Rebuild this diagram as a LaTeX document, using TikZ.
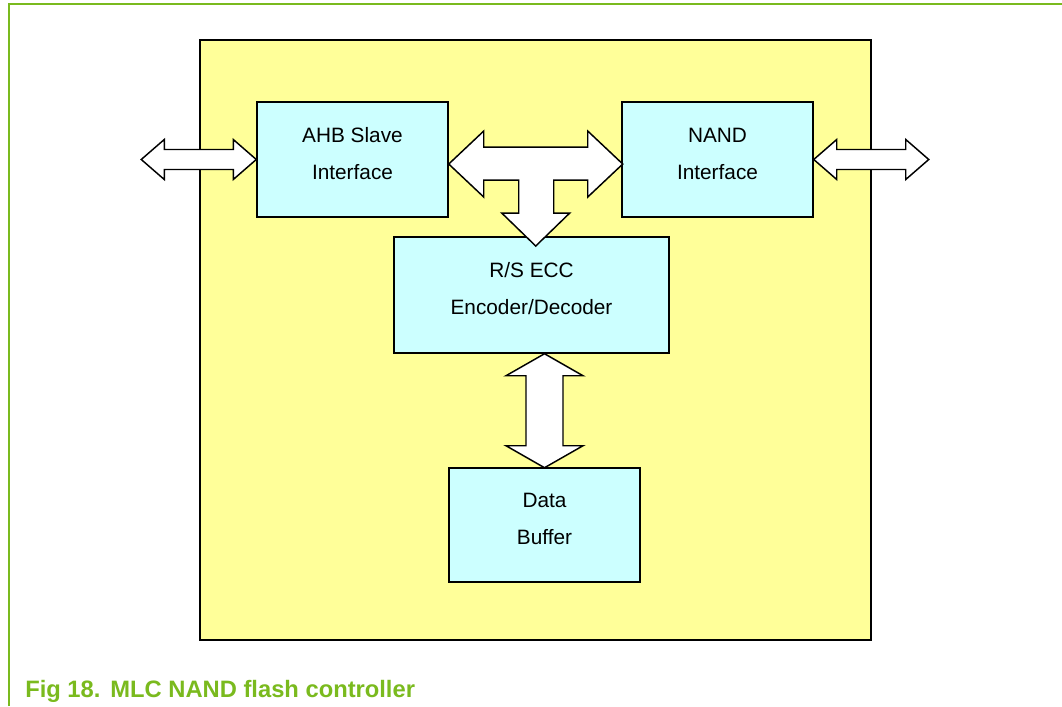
\documentclass[tikz,border=0pt]{standalone}
\usepackage{fontspec}
\setmainfont{Liberation Sans}
\usepackage{tikz}
\usepackage{xcolor}
\usetikzlibrary{calc}

\definecolor{chipyellow}{RGB}{255,255,153}
\definecolor{blkcyan}{RGB}{204,255,255}
\definecolor{figgreen}{RGB}{122,186,30}

\tikzset{
  blk/.style={draw=black, line width=1.1pt, fill=blkcyan, minimum width=143.25pt, minimum height=86.25pt},
  blktext/.style={align=center, font=\fontsize{15.6}{27.75}\selectfont},
  fatarrow/.style={draw=black, line width=1.1pt, fill=white, line join=miter}
}

\begin{document}
\begin{tikzpicture}[x=0.75pt,y=0.75pt,yscale=-1,xscale=1]
\useasboundingbox (0,0) rectangle (1062,706);

% Frame
\draw [figgreen, line width=1.5pt] (8.5,706) -- (8.5,4.5) -- (1062,4.5) ;

% Shape: Rectangle (chip)
\node [draw=black, line width=1.5pt, fill=chipyellow, minimum width=503.25pt, minimum height=450pt] (chip) at (535.5,340) {};

% Blocks
\node [blk] (ahb) at (352.5,159.5) {};
\node [blk] (nand) at (717.5,159.5) {};
\node [blk, minimum width=206.25pt, minimum height=87pt] (ecc) at (531.5,295) {};
\node [blk, minimum height=85.5pt] (buf) at (544.5,525) {};

% Text Node
\node [blktext] at ([yshift=-4.5pt]ahb.center) {AHB Slave\\Interface};
% Text Node
\node [blktext] at ([yshift=-4.5pt]nand.center) {NAND\\Interface};
% Text Node
\node [blktext] at ([yshift=-4.5pt]ecc.center) {R/S ECC\\Encoder/Decoder};
% Text Node
\node [blktext] at ([yshift=-4.5pt]buf.center) {Data\\Buffer};

% Double arrow: outside <-> AHB
\draw [fatarrow] (ahb.west) -- ++(-23,-20) -- ++(0,10) -- ++(-69,0) -- ++(0,-10) -- ++(-23,20)
  -- ++(23,20) -- ++(0,-10) -- ++(69,0) -- ++(0,10) -- cycle ;

% Double arrow: NAND <-> outside
\draw [fatarrow] (nand.east) -- ++(23,-20) -- ++(0,10) -- ++(69,0) -- ++(0,-10) -- ++(23,20)
  -- ++(-23,20) -- ++(0,-10) -- ++(-69,0) -- ++(0,10) -- cycle ;

% T arrow: AHB <-> NAND, down to ECC
\draw [fatarrow] ([yshift=3.4pt]ahb.east) -- ++(35,-33) -- ++(0,16) -- ++(104,0) -- ++(0,-16) -- ++(35,33)
  -- ++(-35,33) -- ++(0,-17) -- ++(-34,0) -- ++(0,33) -- ++(16,0) -- ++(-34,33)
  -- ++(-34,-33) -- ++(17,0) -- ++(0,-33) -- ++(-35,0) -- ++(0,17) -- cycle ;

% Double arrow: ECC <-> Buffer
\draw [fatarrow] (ecc.south -| buf.north) -- ++(38.5,22) -- ++(-20,0) -- ++(0,70) -- ++(20,0) -- ++(-38.5,22)
  -- ++(-38.5,-22) -- ++(20,0) -- ++(0,-70) -- ++(-20,0) -- cycle ;

% Caption
\node [anchor=base west, inner sep=0pt, text=figgreen, font=\fontsize{17.8}{20}\selectfont\bfseries] (cap) at (25,697)
  {Fig 18.\hspace{7.5pt}MLC NAND flash controller};

\end{tikzpicture}
\end{document}
